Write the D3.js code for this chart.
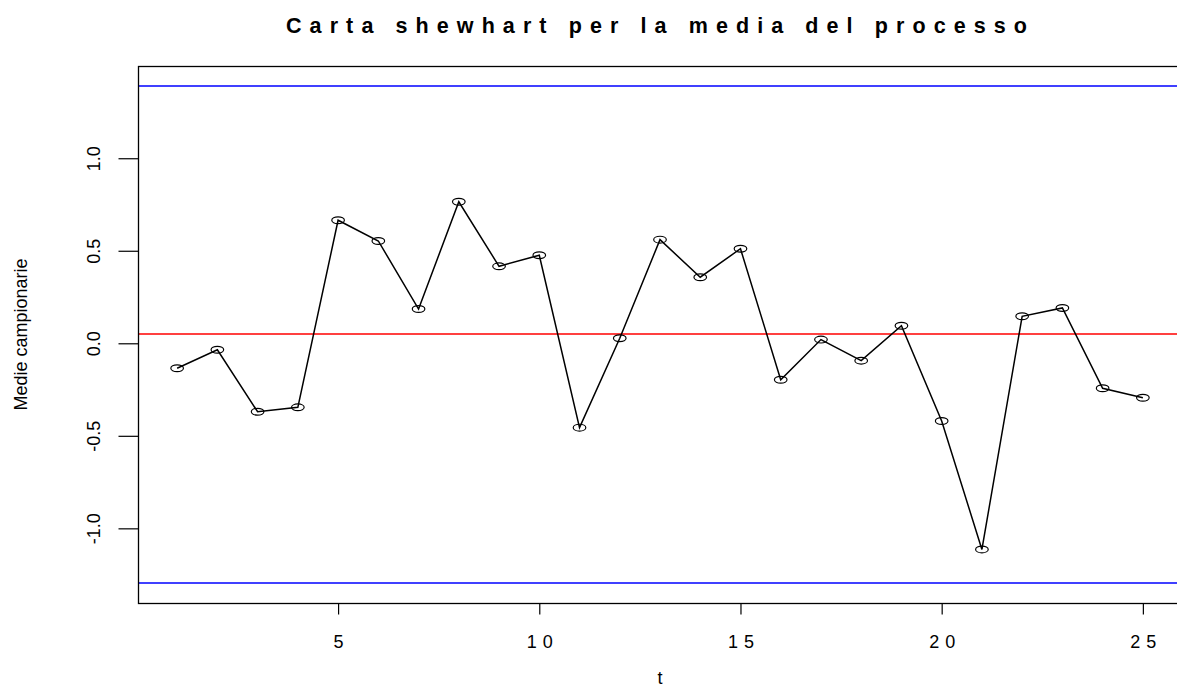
<!DOCTYPE html>
<html><head><meta charset="utf-8">
<script src="https://cdn.jsdelivr.net/npm/d3@7"></script>
<style>body{margin:0;background:#fff} svg{display:block} text{font-family:"Liberation Sans",Arial,Helvetica,sans-serif;fill:#000}</style>
</head><body><svg id="c" width="1177" height="689"></svg>
<script>
const samples = [1,2,3,4,5,6,7,8,9,10,11,12,13,14,15,16,17,18,19,20,21,22,23,24,25];
const means = [-0.135,-0.035,-0.370,-0.346,0.665,0.553,0.185,0.765,0.416,0.476,-0.456,0.027,0.560,0.357,0.511,-0.197,0.020,-0.094,0.095,-0.420,-1.114,0.146,0.191,-0.243,-0.294];
const centerLine = 0.0505;
const ucl = 1.391;
const lcl = -1.296;
const xTicks = [5,10,15,20,25];
const yTicks = [-1.0,-0.5,0.0,0.5,1.0];
const title = "Carta shewhart per la media del processo";
const xLabel = "t";
const yLabel = "Medie campionarie";

const svg = d3.select("#c");
const L = 138.5, R = 1181.5, T = 66, B = 603;

const xr = d3.extent(samples), xe = (xr[1]-xr[0])*0.04;
const x = d3.scaleLinear().domain([xr[0]-xe, xr[1]+xe]).range([L, R]);
const yr = [lcl, ucl], ye = (yr[1]-yr[0])*0.04;
const y = d3.scaleLinear().domain([yr[0]-ye, yr[1]+ye]).range([B, T]);

// control lines
[[ucl,"#0000ff"],[lcl,"#0000ff"],[centerLine,"#ff0000"]].forEach(([v,c])=>{
  const yy = Math.round(y(v));
  svg.append("line").attr("x1",L).attr("x2",R).attr("y1",yy).attr("y2",yy)
    .attr("stroke",c).attr("stroke-width",1.3);
});

// data line
svg.append("path").datum(samples.map((s,i)=>[s,means[i]]))
  .attr("d", d3.line().x(d=>x(d[0])).y(d=>y(d[1])))
  .attr("fill","none").attr("stroke","#000").attr("stroke-width",1.5);

svg.selectAll("ellipse.pt").data(samples.map((s,i)=>[s,means[i]])).enter()
  .append("ellipse").attr("class","pt")
  .attr("cx",d=>x(d[0])).attr("cy",d=>y(d[1]))
  .attr("rx",6.3).attr("ry",3.4)
  .attr("fill","none").attr("stroke","#000").attr("stroke-width",1.2);

// box
svg.append("rect").attr("x",L).attr("y",T+0.5).attr("width",R-L).attr("height",B-T)
  .attr("fill","none").attr("stroke","#000").attr("stroke-width",1.3);

// x axis
const xa = svg.append("g").attr("transform",`translate(0,${B+0.5})`)
  .call(d3.axisBottom(x).tickValues(xTicks).tickSize(11).tickFormat(d3.format("d")));
xa.select(".domain").attr("stroke","#000").attr("d",`M${x(xTicks[0])},0H${x(xTicks[xTicks.length-1])}`);
xa.selectAll(".tick line").attr("stroke","#000").attr("stroke-width",1.2);
xa.selectAll(".tick text").remove();
xa.selectAll(".tick").append("text")
  .attr("y",44).attr("text-anchor","middle").attr("font-size",18)
  .each(function(d){
    const s = String(d);
    const t = d3.select(this).text(s);
    if (s.length>1){ t.attr("textLength",26).attr("lengthAdjust","spacing"); }
  });

// y axis
const ya = svg.append("g").attr("transform",`translate(${L},0)`)
  .call(d3.axisLeft(y).tickValues(yTicks).tickSize(20).tickFormat(d3.format(".1f")));
ya.select(".domain").attr("stroke","#000").attr("d",`M0,${y(yTicks[0])}V${y(yTicks[yTicks.length-1])}`);
ya.selectAll(".tick line").attr("stroke","#000").attr("stroke-width",1.2);
ya.selectAll(".tick text").remove();
ya.selectAll(".tick").append("text")
  .attr("transform",`translate(${100-L},0) rotate(-90)`)
  .attr("text-anchor","middle").attr("font-size",18)
  .text(d=>d3.format(".1f")(d).replace("−","-"));

// labels
svg.append("text").attr("x",656.5).attr("y",33).attr("text-anchor","middle")
  .attr("font-size",21.5).attr("font-weight","bold")
  .attr("textLength",741).attr("lengthAdjust","spacing").text(title);
svg.append("text").attr("x",(L+R)/2).attr("y",684).attr("text-anchor","middle")
  .attr("font-size",18).text(xLabel);
svg.append("text").attr("transform",`translate(27,${(T+B)/2}) rotate(-90)`)
  .attr("text-anchor","middle").attr("font-size",18).text(yLabel);
</script></body></html>
